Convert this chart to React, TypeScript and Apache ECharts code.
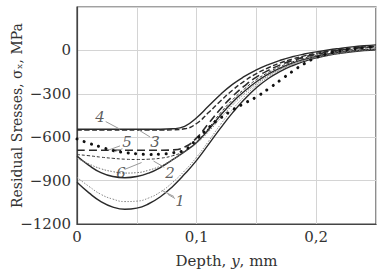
import React, { useEffect, useRef } from "react";
import * as echarts from "echarts";

const depth = [0, 0.01, 0.02, 0.03, 0.04, 0.05, 0.06, 0.07, 0.08, 0.09, 0.1, 0.11, 0.12, 0.13, 0.14, 0.15, 0.16, 0.17, 0.18, 0.19, 0.2, 0.21, 0.22, 0.23, 0.24, 0.25];

const curve4 = [-545, -545, -545, -545, -545, -545, -545, -545, -542, -525, -465, -385, -305, -235, -180, -135, -98, -68, -44, -25, -10, 3, 14, 24, 32, 38];
const curve3 = [-550, -550, -550, -550, -550, -550, -550, -550, -549, -542, -505, -430, -350, -275, -212, -160, -120, -86, -60, -38, -20, -6, 6, 16, 24, 30];
const curve5 = [-690, -690, -690, -690, -690, -690, -690, -690, -688, -668, -605, -505, -405, -318, -246, -185, -138, -100, -70, -46, -27, -11, 2, 12, 20, 26];
const curve6 = [-720, -728, -738, -746, -752, -754, -752, -745, -728, -695, -632, -538, -432, -342, -266, -202, -152, -112, -80, -54, -33, -16, -3, 8, 16, 22];
const curve2 = [-730, -795, -845, -872, -880, -872, -848, -808, -755, -700, -636, -548, -448, -358, -282, -217, -164, -122, -88, -62, -41, -25, -12, -3, 4, 9];
const curve2b = [-745, -785, -818, -838, -848, -845, -828, -798, -755, -702, -642, -562, -468, -378, -298, -230, -174, -130, -95, -68, -46, -29, -15, -5, 3, 9];
const curve1b = [-878, -940, -995, -1028, -1045, -1042, -1020, -977, -912, -832, -738, -628, -512, -408, -318, -243, -182, -135, -99, -71, -49, -32, -18, -7, 1, 7];
const curve1 = [-912, -985, -1045, -1083, -1098, -1090, -1060, -1010, -940, -855, -760, -650, -537, -432, -338, -258, -194, -145, -106, -76, -52, -34, -20, -9, -1, 5];
const curveDots = [-612, -642, -668, -692, -706, -715, -719, -717, -708, -688, -615, -535, -468, -412, -366, -322, -266, -206, -146, -92, -50, -22, -4, 9, 18, 25];

const labelNames = ["4", "3", "5", "6", "2", "1"];
const labelX = [0.0192, 0.0652, 0.0418, 0.0368, 0.0778, 0.0861];
const labelY = [-458, -631, -631, -846, -846, -1040];

const leaders: number[][][] = [
  [[0.024, -492], [0.036, -545]],
  [[0.061, -598], [0.052, -552]],
  [[0.036, -660], [0.026, -690]],
  [[0.038, -680], [0.031, -702]],
  [[0.040, -822], [0.054, -775]],
  [[0.073, -808], [0.064, -765]],
  [[0.081, -1010], [0.071, -968]],
  [[0.082, -1024], [0.076, -995]],
];

const FONT = "DejaVu Serif";
const INK = "#333";

function pair(ys: number[]) {
  return depth.map((x, i) => [x, ys[i]]);
}

export default function App() {
  const ref = useRef<HTMLDivElement>(null);
  useEffect(() => {
    if (!ref.current) return;
    const chart = echarts.init(ref.current, null, { renderer: "svg" });
    const lineS = (name: string, ys: number[], color: string, width: number, type: any, z = 2, cap: any = "butt") => ({
      name,
      type: "line",
      data: pair(ys),
      smooth: true,
      showSymbol: false,
      symbol: "none",
      z,
      lineStyle: { color, width, type, cap },
    });
    chart.setOption({
      animation: false,
      grid: {
        left: 77,
        right: 6,
        top: 7,
        bottom: 47,
        containLabel: false,
        outerBoundsMode: "none",
        show: true,
        borderColor: "#444",
        borderWidth: 1.2,
        backgroundColor: "transparent",
      },
      xAxis: {
        type: "value",
        min: 0,
        max: 0.25,
        interval: 0.05,
        name: "Depth, {i|y}, mm",
        nameLocation: "middle",
        nameGap: 29,
        nameMoveOverlap: false,
        nameTextStyle: {
          fontFamily: FONT,
          fontSize: 15,
          color: INK,
          rich: { i: { fontFamily: FONT, fontSize: 15, fontStyle: "italic", color: INK } },
        },
        axisLine: { onZero: false, lineStyle: { color: "#444", width: 1.2 } },
        axisTick: { show: false },
        axisLabel: {
          fontFamily: FONT,
          fontSize: 15,
          color: INK,
          margin: 5,
          formatter: (v: number) => {
            const k = Math.round(v / 0.05);
            if (k % 2 !== 0 || k === 5) return "";
            return k === 0 ? "0" : (k / 20).toFixed(1).replace(".", ",");
          },
        },
        splitLine: { show: true, lineStyle: { color: "#d4d4d4", width: 1 } },
      },
      yAxis: {
        type: "value",
        min: -1200,
        max: 300,
        interval: 300,
        name: "Residual Sresses, σₓ, MPa",
        nameLocation: "middle",
        nameGap: 53,
        nameMoveOverlap: false,
        nameTextStyle: { fontFamily: FONT, fontSize: 14, color: INK },
        axisLine: { show: true, lineStyle: { color: "#444", width: 1.2 } },
        axisTick: { show: false },
        axisLabel: {
          fontFamily: FONT,
          fontSize: 15,
          color: INK,
          margin: 6,
          formatter: (v: number) => (v >= 300 ? "" : v < 0 ? "\u2212" + Math.abs(v) : String(v)),
        },
        splitLine: { show: true, lineStyle: { color: "#d4d4d4", width: 1 } },
      },
      series: [
        lineS("1", curve1, "#2a2a2a", 1.4, "solid"),
        lineS("1b", curve1b, "#8a8a8a", 1, [1.5, 1.5]),
        lineS("2", curve2, "#2a2a2a", 1.4, "solid"),
        lineS("2b", curve2b, "#777", 1, [1.5, 1.5]),
        lineS("6", curve6, "#333", 1, [3, 2]),
        lineS("5", curve5, "#2a2a2a", 1.6, [8, 4]),
        lineS("3", curve3, "#2a2a2a", 1.4, [5, 2.5]),
        lineS("4", curve4, "#2a2a2a", 1.4, "solid"),
        lineS("dots", curveDots, "#111", 3, [0.1, 7.5], 3, "round"),
        {
          type: "lines",
          coordinateSystem: "cartesian2d",
          polyline: false,
          silent: true,
          z: 4,
          lineStyle: { color: "#999", width: 1, opacity: 1 },
          data: leaders.map((c) => ({ coords: c })),
        },
        {
          type: "scatter",
          symbolSize: 0,
          silent: true,
          z: 5,
          data: labelNames.map((n, i) => [labelX[i], labelY[i], n]),
          label: {
            show: true,
            position: "inside",
            formatter: (p: any) => p.value[2],
            fontFamily: FONT,
            fontStyle: "italic",
            fontSize: 15,
            color: INK,
          },
        },
      ],
    });
    return () => chart.dispose();
  }, []);
  return <div ref={ref} style={{ width: 382, height: 271, position: "absolute", left: 0, top: 0 }} />;
}
